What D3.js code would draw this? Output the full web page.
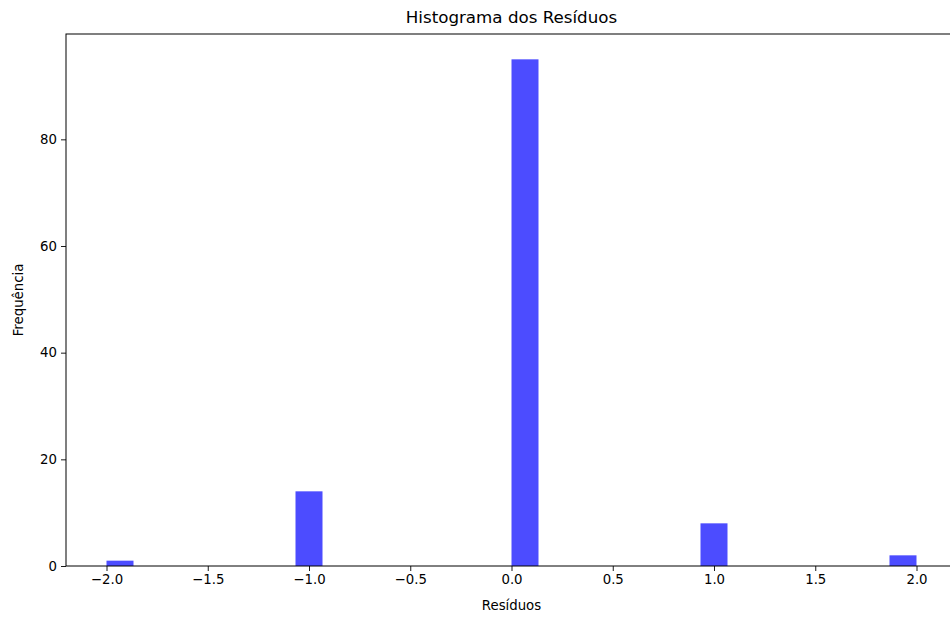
<!DOCTYPE html>
<html>
<head>
<meta charset="utf-8">
<script src="https://cdn.jsdelivr.net/npm/d3@7"></script>
<style>
  html, body { margin: 0; padding: 0; background: #fff; }
  svg { display: block; font-family: "DejaVu Sans", sans-serif; }
</style>
</head>
<body>
<svg id="chart" width="950" height="618"></svg>
<script>
// Histogram of residuals: 30 equal bins spanning [-2, 2]
const binLo = -2, binHi = 2, binCount = 30;
const binCounts = [1,0,0,0,0,0,0,14,0,0,0,0,0,0,0,95,0,0,0,0,0,0,8,0,0,0,0,0,0,2];
const xTicks = [-2.0, -1.5, -1.0, -0.5, 0.0, 0.5, 1.0, 1.5, 2.0];
const yTicks = [0, 20, 40, 60, 80];

const titleText = "Histograma dos Resíduos";
const xLabel = "Resíduos";
const yLabel = "Frequência";

const svg = d3.select("#chart");
const plotLeft = 66, plotTop = 34, plotBottom = 566;
const binWidth = (binHi - binLo) / binCount;
const span = binHi - binLo;
const pxPerUnit = 202.5;
const plotRight = plotLeft + (span * 1.1) * pxPerUnit;

const x = d3.scaleLinear()
  .domain([binLo - span * 0.05, binHi + span * 0.05])
  .range([plotLeft, plotRight]);
const yMax = d3.max(binCounts) * 1.05;
const y = d3.scaleLinear().domain([0, yMax]).range([plotBottom, plotTop]);

const bins = binCounts.map((c, i) => ({ x0: binLo + i * binWidth, x1: binLo + (i + 1) * binWidth, count: c }));

svg.append("g")
  .selectAll("rect")
  .data(bins.filter(d => d.count > 0))
  .join("rect")
  .attr("x", d => x(d.x0))
  .attr("width", d => x(d.x1) - x(d.x0))
  .attr("y", d => y(d.count))
  .attr("height", d => y(0) - y(d.count))
  .attr("fill", "blue")
  .attr("fill-opacity", 0.7);

// Axes
const xAxis = d3.axisBottom(x).tickValues(xTicks)
  .tickFormat(d => d3.format(".1f")(d).replace("-", "\u2212"))
  .tickSizeOuter(0).tickSize(5).tickPadding(4);
const gx = svg.append("g").attr("transform", `translate(0,${plotBottom})`).call(xAxis);

const yAxis = d3.axisLeft(y).tickValues(yTicks).tickFormat(d3.format("d"))
  .tickSizeOuter(0).tickSize(5).tickPadding(4);
const gy = svg.append("g").attr("transform", `translate(${plotLeft},0)`).call(yAxis);

[gx, gy].forEach(g => {
  g.selectAll("text").attr("font-size", 13.3).attr("fill", "#000").attr("font-family", "DejaVu Sans, sans-serif");
  g.selectAll("line").attr("stroke", "#000").attr("stroke-width", 0.9);
  g.select(".domain").remove();
});

// Frame spines
svg.append("rect")
  .attr("x", plotLeft).attr("y", plotTop)
  .attr("width", plotRight - plotLeft).attr("height", plotBottom - plotTop)
  .attr("fill", "none").attr("stroke", "#000").attr("stroke-width", 1);

// Labels
svg.append("text").attr("x", (plotLeft + plotRight) / 2).attr("y", 23)
  .attr("text-anchor", "middle").attr("font-size", 16.7).text(titleText);
svg.append("text").attr("x", (plotLeft + plotRight) / 2).attr("y", 610)
  .attr("text-anchor", "middle").attr("font-size", 13.3).text(xLabel);
svg.append("text").attr("transform", `translate(23,${(plotTop + plotBottom) / 2}) rotate(-90)`)
  .attr("text-anchor", "middle").attr("font-size", 13.3).text(yLabel);
</script>
</body>
</html>
